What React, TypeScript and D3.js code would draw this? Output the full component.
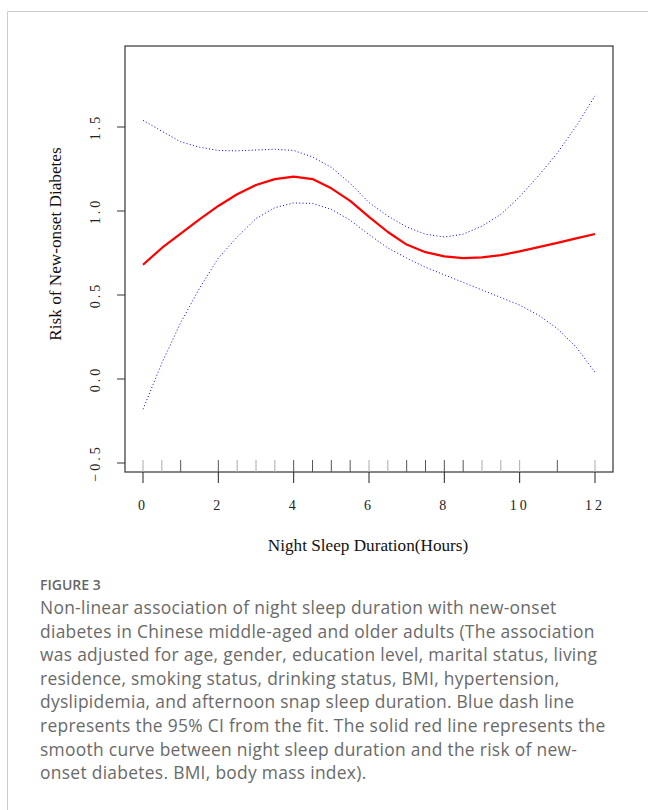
import React from "react";
import * as d3 from "d3";

const hours = [0, 0.5, 1, 1.5, 2, 2.5, 3, 3.5, 4, 4.5, 5, 5.5, 6, 6.5, 7, 7.5, 8, 8.5, 9, 9.5, 10, 10.5, 11, 11.5, 12];
const fitRisk = [0.68, 0.78, 0.865, 0.95, 1.03, 1.1, 1.155, 1.19, 1.205, 1.19, 1.135, 1.06, 0.965, 0.875, 0.8, 0.755, 0.73, 0.72, 0.724, 0.737, 0.76, 0.785, 0.81, 0.837, 0.863];
const upperCI = [1.54, 1.475, 1.412, 1.38, 1.36, 1.358, 1.363, 1.368, 1.36, 1.322, 1.26, 1.165, 1.05, 0.97, 0.905, 0.862, 0.845, 0.862, 0.91, 0.98, 1.085, 1.21, 1.345, 1.505, 1.685];
const lowerCI = [-0.18, 0.095, 0.335, 0.54, 0.72, 0.845, 0.955, 1.02, 1.048, 1.045, 1.01, 0.945, 0.86, 0.78, 0.72, 0.665, 0.62, 0.575, 0.53, 0.485, 0.44, 0.38, 0.3, 0.19, 0.04];

const rugValues = [0, 0.5, 1, 2, 2.5, 3, 3.5, 4, 4.5, 5, 5.5, 6, 6.5, 7, 7.5, 8, 8.5, 9, 9.5, 10, 11, 12];
const rugDark = [false, false, true, true, false, false, false, true, true, true, true, false, false, true, true, true, true, false, false, false, true, false];

const xTicks = [0, 2, 4, 6, 8, 10, 12];
const yTicks = [-0.5, 0, 0.5, 1, 1.5];
const yTickLabels = ["\u22120.5", "0.0", "0.5", "1.0", "1.5"];

const xTitle = "Night Sleep Duration(Hours)";
const yTitle = "Risk of New-onset Diabetes";
const figLabel = "FIGURE 3";
const captionLines = [
  "Non-linear association of night sleep duration with new-onset",
  "diabetes in Chinese middle-aged and older adults (The association",
  "was adjusted for age, gender, education level, marital status, living",
  "residence, smoking status, drinking status, BMI, hypertension,",
  "dyslipidemia, and afternoon snap sleep duration. Blue dash line",
  "represents the 95% CI from the fit. The solid red line represents the",
  "smooth curve between night sleep duration and the risk of new-",
  "onset diabetes. BMI, body mass index).",
];

export default function App() {
  const W = 648, H = 810;
  const box = { left: 125, right: 613, top: 46, bottom: 472 };
  const x = d3.scaleLinear().domain([0, 12]).range([143, 595]);
  const y = d3.scaleLinear().domain([0, 1]).range([379, 211]);
  const serif = "'Liberation Serif', 'Times New Roman', serif";

  const line = (vals: number[]) =>
    d3.line<number>().x((_, i) => x(hours[i])).y((v) => y(v))(vals) || "";

  return (
    <svg width={W} height={H} style={{ position: "absolute", left: 0, top: 0 }}>
      <rect width={W} height={H} fill="#fff" />
      <line x1={7.5} y1={11.5} x2={W} y2={11.5} stroke="#ccc" />
      <line x1={7.5} y1={11.5} x2={7.5} y2={H} stroke="#ccc" />

      {/* plot box */}
      <rect x={box.left} y={box.top} width={box.right - box.left} height={box.bottom - box.top}
        fill="none" stroke="#444" strokeWidth={1.3} />

      {/* CI lines */}
      <path d={line(upperCI)} fill="none" stroke="#0000ff" strokeWidth={1} strokeDasharray="1,2.3" />
      <path d={line(lowerCI)} fill="none" stroke="#0000ff" strokeWidth={1} strokeDasharray="1,2.3" />
      {/* fit */}
      <path d={line(fitRisk)} fill="none" stroke="#ff0000" strokeWidth={2.2} strokeLinejoin="round" />

      {/* rug */}
      {rugValues.map((v, i) => (
        <line key={"r" + i} x1={x(v)} x2={x(v)} y1={460} y2={472}
          stroke={rugDark[i] ? "#555" : "#aaa"} strokeWidth={1} />
      ))}

      {/* x axis ticks */}
      {xTicks.map((t) => (
        <g key={"x" + t}>
          <line x1={x(t)} x2={x(t)} y1={472} y2={483} stroke="#222" strokeWidth={1} />
          <text x={x(t)} y={510} textAnchor="middle" fontFamily={serif} fontSize={14}
            letterSpacing={3} fill="#222">{String(t)}</text>
        </g>
      ))}

      {/* y axis ticks */}
      {yTicks.map((t, i) => (
        <g key={"y" + t}>
          <line x1={117} x2={125} y1={y(t)} y2={y(t)} stroke="#333" strokeWidth={1} />
          <text transform={`translate(100,${y(t)}) rotate(-90)`} textAnchor="middle"
            fontFamily={serif} fontSize={14} letterSpacing={3} fill="#222">{yTickLabels[i]}</text>
        </g>
      ))}

      {/* titles */}
      <text x={368} y={551} textAnchor="middle" fontFamily={serif} fontSize={17.2} fill="#111">{xTitle}</text>
      <text transform="translate(61,244) rotate(-90)" textAnchor="middle" fontFamily={serif}
        fontSize={17.2} fill="#111">{yTitle}</text>

      {/* caption */}
      <text x={40} y={590} fontFamily="'Open Sans', sans-serif" fontSize={14} fontWeight={600} fill="#666">{figLabel}</text>
      {captionLines.map((l, i) => (
        <text key={"c" + i} x={40} y={614 + i * 23.6} fontFamily="'Open Sans', sans-serif"
          fontSize={17.4} letterSpacing={0.3} fill="#6a6a6a">{l}</text>
      ))}
    </svg>
  );
}
